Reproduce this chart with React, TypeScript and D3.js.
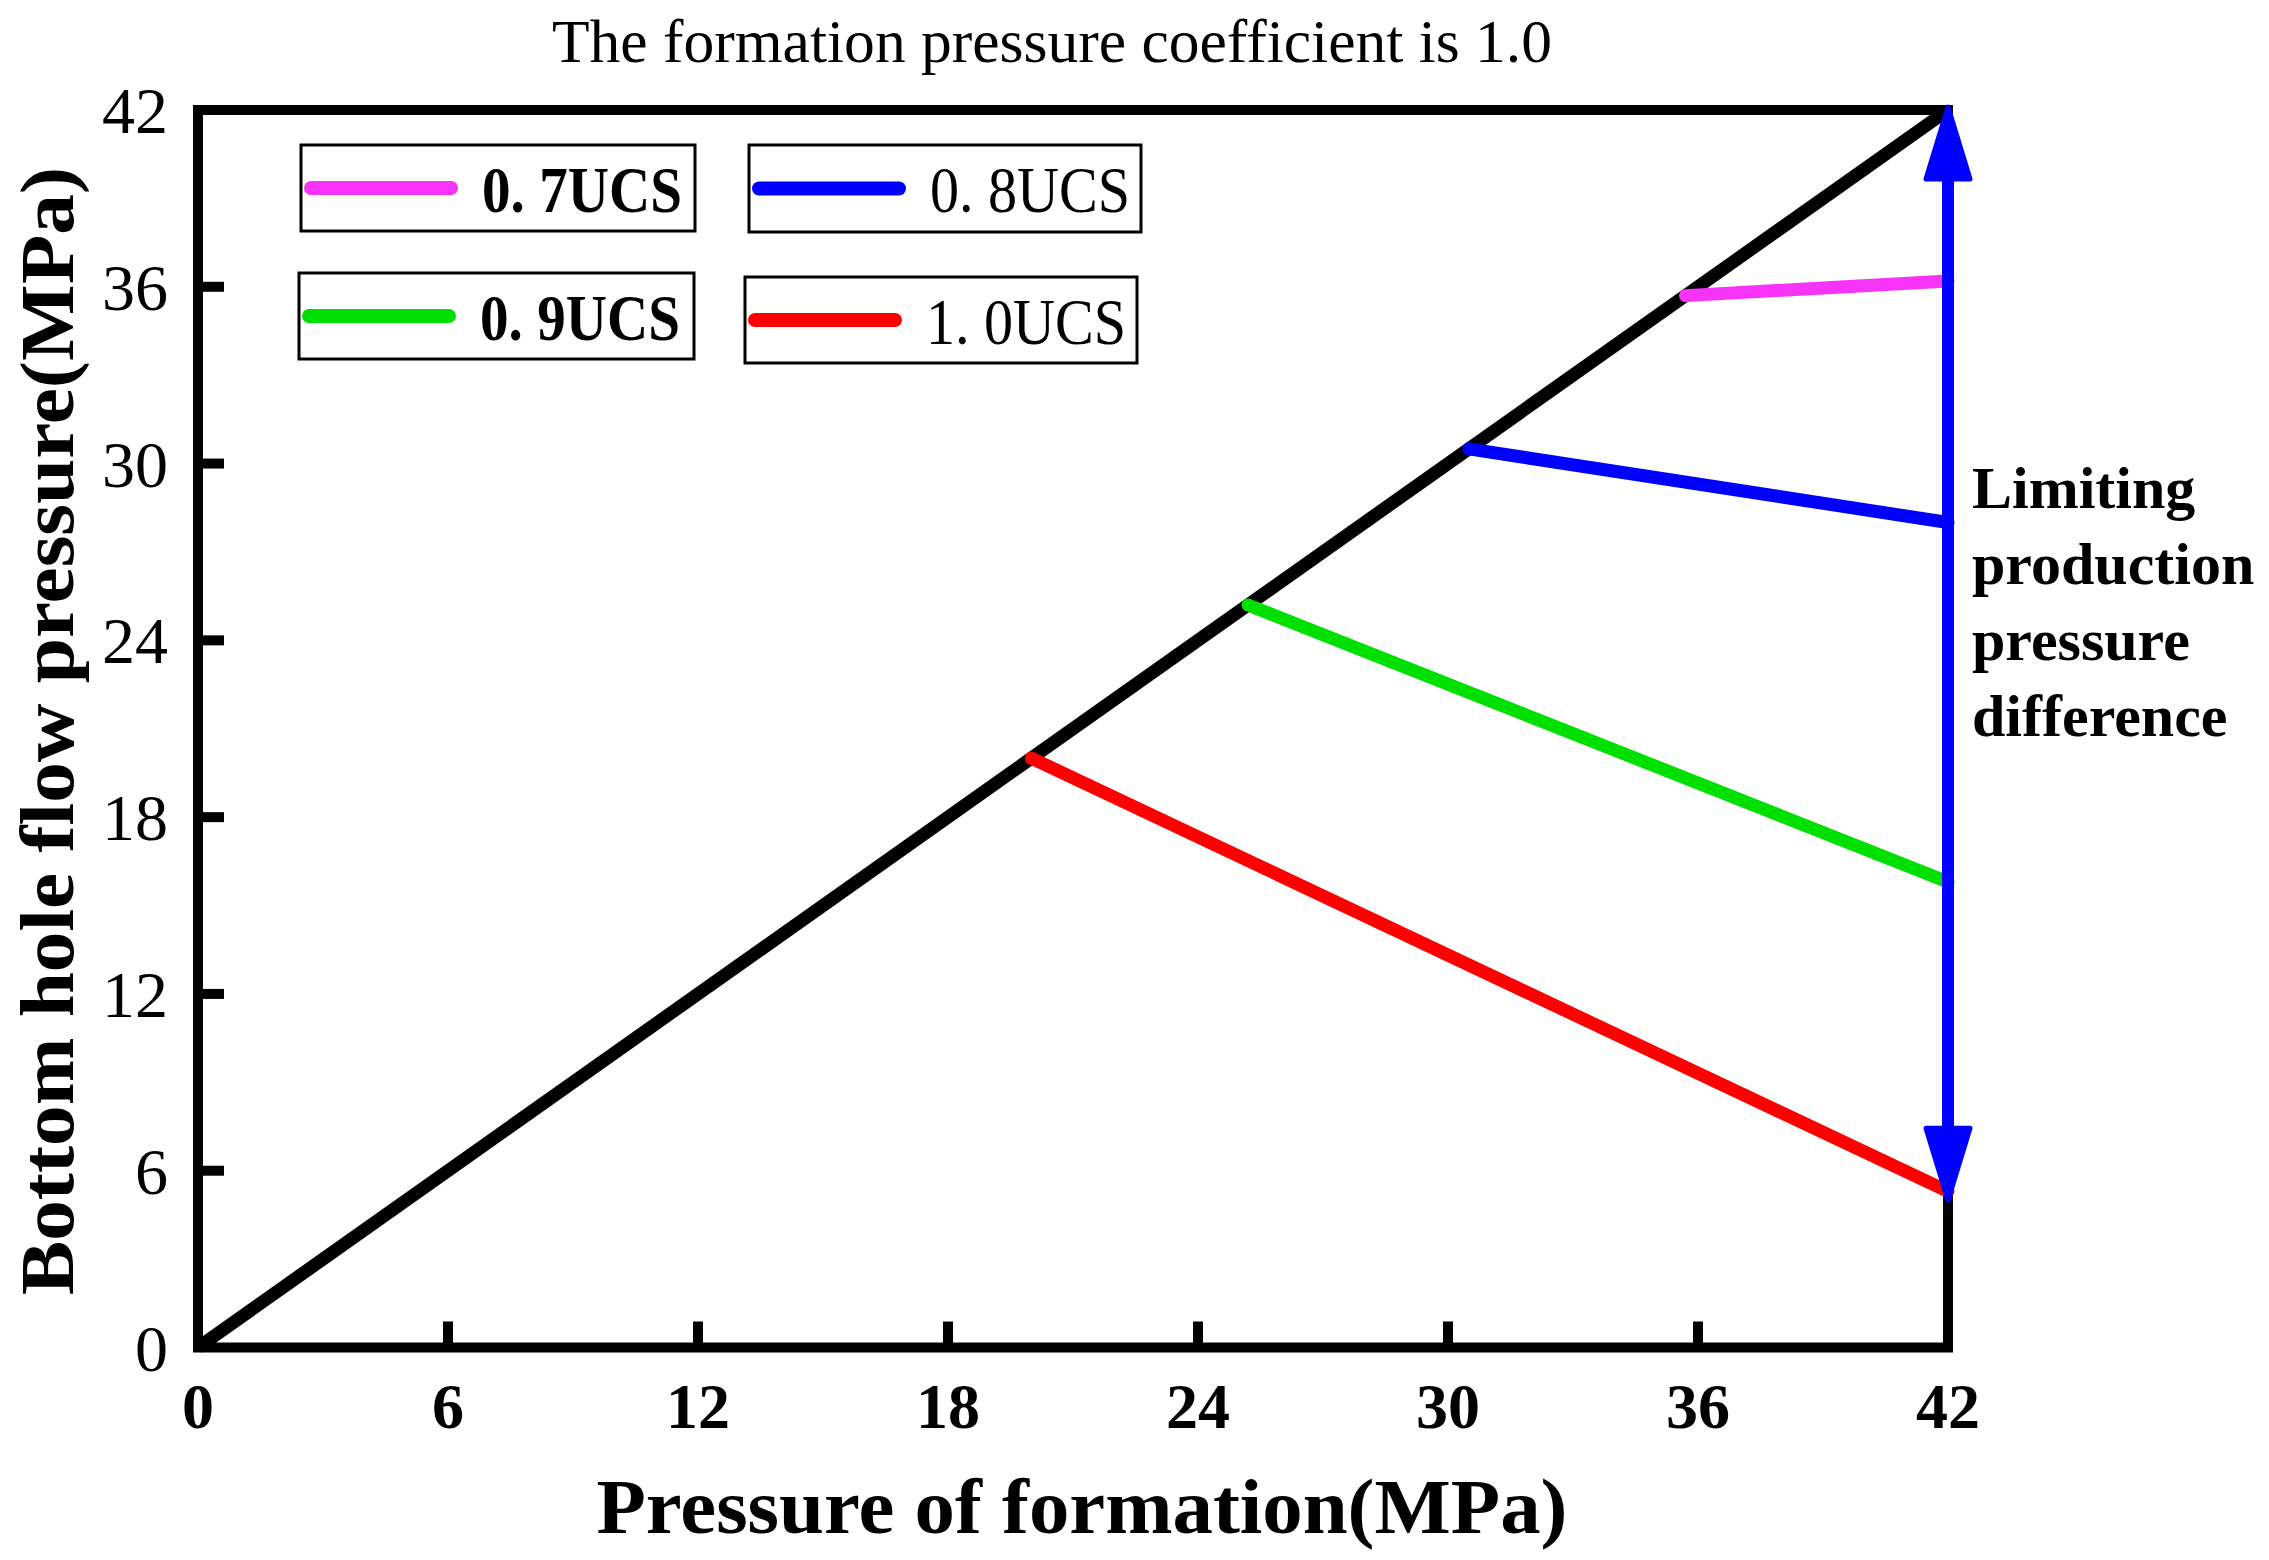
import { useEffect } from "react"
import * as d3 from "d3"

// chart data
const xTicks = [0, 6, 12, 18, 24, 30, 36, 42]
const yTicks = [0, 6, 12, 18, 24, 30, 36, 42]
const diagonal = [[0, 0], [42, 42]]
const ucsLabels = ["0. 7UCS", "0. 8UCS", "0. 9UCS", "1. 0UCS"]
const ucsColors = ["#f633f6", "#0000ff", "#00e000", "#ff0000"]
const ucsBold = [true, false, true, false]
const ucsStart = [35.7, 30.5, 25.2, 20.0]
const ucsEnd = [36.2, 28.0, 15.8, 5.3]
const arrowRange = [5.0, 42.1]
const noteLines = ["Limiting", "production", "pressure", "difference"]

const W = 2269
const H = 1560
const FONT = "'Liberation Serif', 'Times New Roman', serif"

// legend boxes: [x, y, w, h]
const legendBoxes = [
  [301, 145, 394, 86],
  [749, 145, 392, 87],
  [299, 273, 395, 86],
  [745, 277, 392, 86],
]

export default function App() {
  useEffect(() => {
    document.body.style.margin = "0"
  }, [])

  const x = d3.scaleLinear().domain([0, 42]).range([198, 1948])
  const y = d3.scaleLinear().domain([0, 42]).range([1347.5, 110])
  const line = d3.line<number[]>().x(d => x(d[0])).y(d => y(d[1]))

  const series = ucsStart.map((s, i) => [[s, s], [42, ucsEnd[i]]])

  const ax = x(42)
  const aTop = y(arrowRange[1])
  const aBot = y(arrowRange[0])
  const headLen = 72
  const headHalf = 22

  return (
    <svg width={W} height={H} style={{ display: "block", background: "#fff" }}>
      {/* title */}
      <text x={1052} y={62} fontFamily={FONT} fontSize={62} textAnchor="middle"
        textLength={1000} lengthAdjust="spacingAndGlyphs">
        The formation pressure coefficient is 1.0
      </text>

      {/* frame */}
      <rect x={x(0)} y={y(42)} width={x(42) - x(0)} height={y(0) - y(42)}
        fill="none" stroke="#000" strokeWidth={10} />

      {/* ticks, inward */}
      {xTicks.filter(t => t > 0 && t < 42).map(t => (
        <line key={"xt" + t} x1={x(t)} x2={x(t)} y1={y(0)} y2={y(0) - 26}
          stroke="#000" strokeWidth={10} />
      ))}
      {yTicks.filter(t => t > 0 && t < 42).map(t => (
        <line key={"yt" + t} x1={x(0)} x2={x(0) + 26} y1={y(t)} y2={y(t)}
          stroke="#000" strokeWidth={10} />
      ))}

      {/* tick labels */}
      {xTicks.map(t => (
        <text key={"xl" + t} x={x(t)} y={1428} fontFamily={FONT} fontSize={64}
          fontWeight="bold" textAnchor="middle">{t}</text>
      ))}
      {yTicks.map(t => (
        <text key={"yl" + t} x={168} y={y(t) + 23} fontFamily={FONT} fontSize={66}
          textAnchor="end">{t}</text>
      ))}

      {/* axis titles */}
      <text x={1082} y={1533} fontFamily={FONT} fontSize={78} fontWeight="bold"
        textAnchor="middle" textLength={971} lengthAdjust="spacingAndGlyphs">
        Pressure of formation(MPa)
      </text>
      <text transform={`translate(73,731) rotate(-90)`} fontFamily={FONT} fontSize={76}
        fontWeight="bold" textAnchor="middle" textLength={1128} lengthAdjust="spacingAndGlyphs">
        Bottom hole flow pressure(MPa)
      </text>

      {/* diagonal */}
      <path d={line(diagonal) || ""} fill="none" stroke="#000" strokeWidth={13} />

      {/* UCS lines */}
      {series.map((s, i) => (
        <path key={"s" + i} d={line(s) || ""} fill="none" stroke={ucsColors[i]}
          strokeWidth={13} strokeLinecap="round" />
      ))}

      {/* double arrow */}
      <line x1={ax} x2={ax} y1={aTop + headLen - 4} y2={aBot - headLen + 4}
        stroke="#0000ff" strokeWidth={12} />
      <path d={`M${ax},${aTop} L${ax + headHalf},${aTop + headLen} L${ax - headHalf},${aTop + headLen} Z`}
        fill="#0000ff" stroke="#0000ff" strokeWidth={5} strokeLinejoin="round" />
      <path d={`M${ax},${aBot} L${ax + headHalf},${aBot - headLen} L${ax - headHalf},${aBot - headLen} Z`}
        fill="#0000ff" stroke="#0000ff" strokeWidth={5} strokeLinejoin="round" />

      {/* annotation */}
      {noteLines.map((t, i) => (
        <text key={"n" + i} x={1972} y={508 + i * 76} fontFamily={FONT} fontSize={60}
          fontWeight="bold">{t}</text>
      ))}

      {/* legend */}
      {legendBoxes.map(([bx, by, bw, bh], i) => (
        <g key={"lg" + i}>
          <rect x={bx} y={by} width={bw} height={bh} fill="#fff" stroke="#000" strokeWidth={3} />
          <line x1={bx + 10} x2={bx + 150} y1={by + bh / 2} y2={by + bh / 2}
            stroke={ucsColors[i]} strokeWidth={14} strokeLinecap="round" />
          <text x={bx + 181} y={by + 67} fontFamily={FONT} fontSize={66}
            fontWeight={ucsBold[i] ? "bold" : "normal"} textLength={200}
            lengthAdjust="spacingAndGlyphs">{ucsLabels[i]}</text>
        </g>
      ))}
    </svg>
  )
}
